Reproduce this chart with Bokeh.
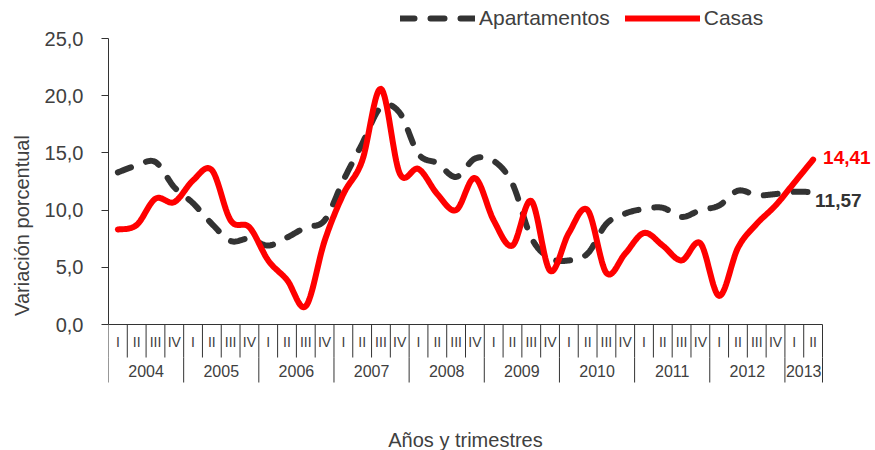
import numpy as np
from bokeh.plotting import figure
from bokeh.models import (Range1d, FixedTicker, CustomJSTickFormatter, Legend,
                          LegendItem, Label)
from bokeh.embed import file_html
from bokeh.resources import INLINE
from bokeh.core.properties import value

# ---------------- data ----------------
years = ["2004", "2005", "2006", "2007", "2008", "2009", "2010", "2011", "2012", "2013"]
quarters_per_year = [4, 4, 4, 4, 4, 4, 4, 4, 4, 2]
quarter_names = ["I", "II", "III", "IV"]

apartamentos = [13.3, 13.9, 14.2, 12.0, 10.6, 8.8, 7.3, 7.5, 6.9, 7.6,
                8.5, 9.1, 12.6, 15.8, 19.0, 18.5, 14.9, 14.1, 12.9, 14.5,
                14.3, 12.3, 7.6, 5.8, 5.6, 6.2, 8.8, 9.7, 10.1, 10.2,
                9.4, 10.0, 10.4, 11.7, 11.3, 11.4, 11.6, 11.57]
casas = [8.3, 8.7, 11.0, 10.7, 12.6, 13.5, 9.1, 8.5, 5.6, 3.9,
         1.6, 7.3, 11.4, 14.3, 20.6, 13.2, 13.6, 11.4, 10.0, 12.8,
         9.1, 6.9, 10.8, 4.7, 8.0, 10.0, 4.5, 6.2, 8.0, 6.9,
         5.6, 7.1, 2.5, 6.7, 8.8, 10.4, 12.4, 14.41]
y_ticks = [0, 5, 10, 15, 20, 25]

FONT = "Liberation Sans"
TXT = "#404040"
GREY = "#333333"
RED = "#FF0000"

n = len(casas)
quarter_labels = [quarter_names[k] for c in quarters_per_year for k in range(c)]
q_x = [i + 0.5 for i in range(n)]
year_start = np.concatenate([[0], np.cumsum(quarters_per_year)[:-1]])
year_x = [s + c / 2 for s, c in zip(year_start, quarters_per_year)]
year_bounds = list(year_start) + [n]


def smooth(ys, steps=16):
    y = np.asarray(ys, float)
    x = np.arange(len(y)) + 0.5
    pts = np.column_stack([x, y])
    P = np.vstack([pts[0], pts, pts[-1]])
    out = []
    for i in range(len(pts) - 1):
        p0, p1, p2, p3 = P[i], P[i + 1], P[i + 2], P[i + 3]
        c1 = p1 + (p2 - p0) / 6.0
        c2 = p2 - (p3 - p1) / 6.0
        t = np.linspace(0, 1, steps, endpoint=(i == len(pts) - 2))[:, None]
        b = ((1 - t) ** 3) * p1 + 3 * ((1 - t) ** 2) * t * c1 + 3 * (1 - t) * t ** 2 * c2 + t ** 3 * p2
        out.append(b)
    return np.vstack(out)


# layout: figure fills 875x450; frame spans from x=108 to the right edge
W, H = 875, 450
LEFT = 108
PXX = 714 / n          # px per quarter
PX = 11.44             # px per percentage unit
Y_TOP = 25 + 38 / PX
Y_BOT = -(H - 324) / PX
X_END = (W - LEFT) / PXX

p = figure(width=W, height=H, output_backend="svg", toolbar_location=None,
           x_range=Range1d(0, X_END), y_range=Range1d(Y_BOT, Y_TOP),
           x_axis_location=None, min_border_left=LEFT, min_border_right=0,
           min_border_top=0, min_border_bottom=0)
p.outline_line_color = None
p.grid.visible = False
p.background_fill_color = "white"
p.border_fill_color = "white"

ax = p.yaxis[0]
ax.bounds = (0, 25)
ax.ticker = FixedTicker(ticks=y_ticks)
ax.formatter = CustomJSTickFormatter(code="return tick.toFixed(1).replace('.', ',');")
ax.minor_tick_line_color = None
ax.major_tick_in = 0
ax.major_tick_out = 7
ax.axis_line_color = GREY
ax.major_tick_line_color = GREY
ax.major_label_text_font = FONT
ax.major_label_text_font_size = "20px"
ax.major_label_text_color = TXT
ax.major_label_standoff = 18
ax.axis_label = "Variación porcentual"
ax.axis_label_text_font = FONT
ax.axis_label_text_font_size = "20px"
ax.axis_label_text_font_style = "normal"
ax.axis_label_text_color = TXT
ax.axis_label_standoff = 9

# category axis drawn in data space below y=0
Q_SEP = -33 / PX
Y_SEP = -58 / PX
p.segment(x0=[0], y0=[0], x1=[n], y1=[0], line_color=GREY, line_width=1)
p.segment(x0=list(range(n + 1)), y0=[0] * (n + 1), x1=list(range(n + 1)),
          y1=[Q_SEP] * (n + 1), line_color=GREY, line_width=1)
p.segment(x0=year_bounds, y0=[Q_SEP] * len(year_bounds), x1=year_bounds,
          y1=[Y_SEP] * len(year_bounds), line_color=GREY, line_width=1)
p.text(x=q_x, y=[-17 / PX] * n, text=quarter_labels, text_align="center",
       text_baseline="middle", text_font=value(FONT), text_font_size="14px",
       text_color=TXT)
p.text(x=year_x, y=[-46 / PX] * len(years), text=years, text_align="center",
       text_baseline="middle", text_font=value(FONT), text_font_size="16px",
       text_color=TXT)
p.text(x=[n / 2], y=[-115 / PX], text=["Años y trimestres"], text_align="center",
       text_baseline="middle", text_font=value(FONT), text_font_size="20px",
       text_color=TXT)

sa = smooth(apartamentos)
sc = smooth(casas)
r1 = p.line(sa[:, 0], sa[:, 1], line_color=GREY, line_width=6, line_dash="14 16",
            line_cap="round", line_join="round")
r2 = p.line(sc[:, 0], sc[:, 1], line_color=RED, line_width=6,
            line_cap="round", line_join="round")

legend = Legend(items=[LegendItem(label="Apartamentos", renderers=[r1]),
                       LegendItem(label="Casas", renderers=[r2])],
                orientation="horizontal", location=(292, 420),
                padding=0, margin=0, spacing=15, label_standoff=4,
                glyph_width=75, glyph_height=20, label_height=20,
                label_text_font=FONT, label_text_font_size="21px",
                label_text_color=TXT, background_fill_alpha=0,
                border_line_alpha=0)
p.add_layout(legend)

fmt = lambda v: f"{v:.2f}".replace(".", ",")
p.add_layout(Label(x=n - 0.5, y=casas[-1], text=fmt(casas[-1]), x_offset=10, y_offset=2,
                   text_baseline="middle", text_font=FONT, text_font_size="19px",
                   text_font_style="bold", text_color=RED))
p.add_layout(Label(x=n - 0.5, y=apartamentos[-1], text=fmt(apartamentos[-1]), x_offset=2,
                   y_offset=-8, text_baseline="middle", text_font=FONT,
                   text_font_size="19px", text_font_style="bold", text_color=GREY))

open("out.html", "w").write(file_html(p, INLINE))
